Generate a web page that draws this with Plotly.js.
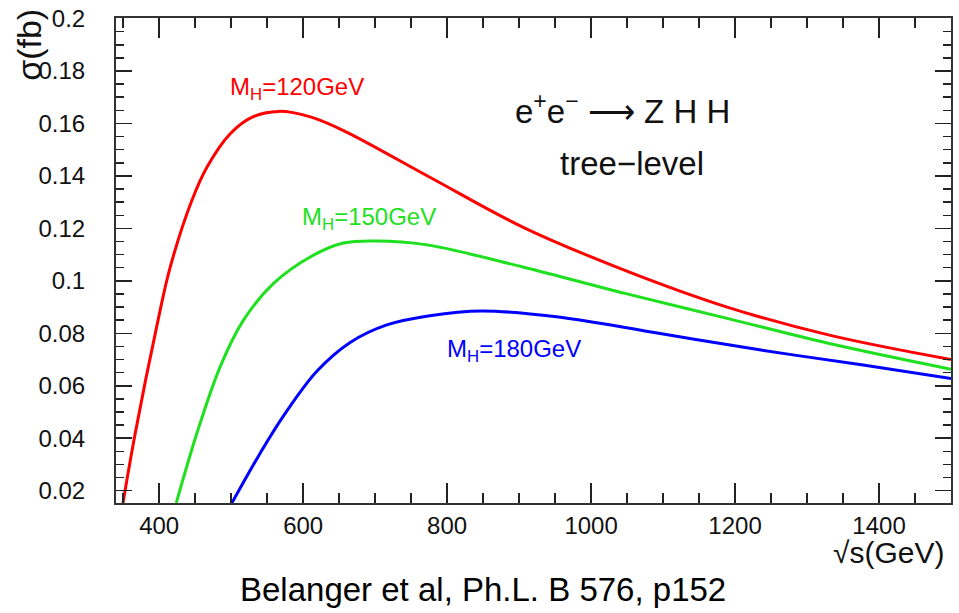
<!DOCTYPE html>
<html>
<head>
<meta charset="utf-8">
<script src="https://cdn.plot.ly/plotly-3.0.1.min.js"></script>
<style>html,body{margin:0;padding:0;background:#fff;}#chart{width:959px;height:613px;}</style>
</head>
<body>
<div id="chart"></div>
<script>
// sqrt(s) in GeV, sigma in fb
const red_x = [349.7, 366.8, 396.9, 415.4, 445.5, 466.3, 498.7, 530, 566, 610, 656, 776, 905, 1047, 1189, 1331, 1500];
const red_y = [0.0153, 0.042, 0.083, 0.1053, 0.1307, 0.1433, 0.1561, 0.1625, 0.1646, 0.1625, 0.1573, 0.1395, 0.1205, 0.104, 0.090, 0.0793, 0.070];
const green_x = [423.7, 452.4, 484.8, 517.1, 558.8, 609.8, 656, 702, 770, 905, 1047, 1189, 1331, 1500];
const green_y = [0.0153, 0.0419, 0.0673, 0.085, 0.099, 0.1091, 0.1144, 0.1152, 0.1138, 0.1053, 0.0952, 0.0857, 0.0761, 0.0663];
const blue_x = [501, 540.3, 572.7, 619, 665.3, 716.2, 776, 848, 952, 1094, 1236, 1378, 1500];
const blue_y = [0.0153, 0.0343, 0.0485, 0.0655, 0.0765, 0.0832, 0.0867, 0.0885, 0.0863, 0.080, 0.0736, 0.0679, 0.0628];
const seriesNames = ["M<sub>H</sub>=120GeV", "M<sub>H</sub>=150GeV", "M<sub>H</sub>=180GeV"];

const lineW = 3;
const traces = [
  {x: red_x, y: red_y, mode: 'lines', line: {color: '#ff0000', width: lineW, shape: 'spline'}, name: seriesNames[0]},
  {x: green_x, y: green_y, mode: 'lines', line: {color: '#1ee01e', width: lineW, shape: 'spline'}, name: seriesNames[1]},
  {x: blue_x, y: blue_y, mode: 'lines', line: {color: '#0000ff', width: lineW, shape: 'spline'}, name: seriesNames[2]}
];

const sans = '"Liberation Sans", Arial, sans-serif';

const layout = {
  width: 959, height: 613,
  margin: {l: 116, r: 8, t: 18, b: 110},
  paper_bgcolor: '#fff', plot_bgcolor: '#fff',
  showlegend: false,
  xaxis: {
    range: [340, 1500], tick0: 0, dtick: 200,
    ticks: 'inside', ticklen: 20, tickwidth: 1.5, tickcolor: '#222',
    minor: {dtick: 50, ticks: 'inside', ticklen: 10, tickwidth: 1.5, tickcolor: '#222'},
    showline: true, linewidth: 2, linecolor: '#333', mirror: 'allticks',
    showgrid: false, zeroline: false,
    tickfont: {family: sans, size: 24, color: '#111'},
    ticklabelstandoff: 0
  },
  yaxis: {
    range: [0.0153, 0.2002], tick0: 0, dtick: 0.02,
    ticks: 'inside', ticklen: 16, tickwidth: 1.5, tickcolor: '#222',
    minor: {dtick: 0.005, ticks: 'inside', ticklen: 8, tickwidth: 1.5, tickcolor: '#222'},
    showline: true, linewidth: 2, linecolor: '#333', mirror: 'allticks',
    showgrid: false, zeroline: false,
    tickfont: {family: sans, size: 24, color: '#111'},
    ticklabelstandoff: 24
  },
  annotations: [
    {x: 592, y: 0.1733, xref: 'x', yref: 'y', xanchor: 'center', yanchor: 'middle', text: seriesNames[0], showarrow: false, font: {family: sans, size: 24, color: '#ff0000'}},
    {x: 692, y: 0.1238, xref: 'x', yref: 'y', xanchor: 'center', yanchor: 'middle', text: seriesNames[1], showarrow: false, font: {family: sans, size: 24, color: '#1ee01e'}},
    {x: 893, y: 0.0736, xref: 'x', yref: 'y', xanchor: 'center', yanchor: 'middle', text: seriesNames[2], showarrow: false, font: {family: sans, size: 24, color: '#0000ff'}},
    {x: 1044, y: 0.1655, xref: 'x', yref: 'y', xanchor: 'center', yanchor: 'middle', text: 'e<sup>+</sup>e<sup>−</sup> ⟶ Z H H', showarrow: false, font: {family: sans, size: 33, color: '#111'}},
    {x: 1056.8, y: 0.1447, xref: 'x', yref: 'y', xanchor: 'center', yanchor: 'middle', text: 'tree−level', showarrow: false, font: {family: sans, size: 33, color: '#111'}},
    {x: -0.1035, y: 0.9438, xref: 'paper', yref: 'paper', xanchor: 'center', yanchor: 'middle', text: 'σ(fb)', textangle: -90, showarrow: false, font: {family: sans, size: 34, color: '#111'}},
    {x: 0.925, y: -0.102, xref: 'paper', yref: 'paper', xanchor: 'center', yanchor: 'middle', text: '√s(GeV)', showarrow: false, font: {family: sans, size: 30, color: '#111'}},
    {x: 0.44, y: -0.178, xref: 'paper', yref: 'paper', xanchor: 'center', yanchor: 'middle', text: 'Belanger et al, Ph.L. B 576, p152', showarrow: false, font: {family: sans, size: 33, color: '#000'}}
  ]
};

Plotly.newPlot('chart', traces, layout, {staticPlot: true, displayModeBar: false});
</script>
</body>
</html>
